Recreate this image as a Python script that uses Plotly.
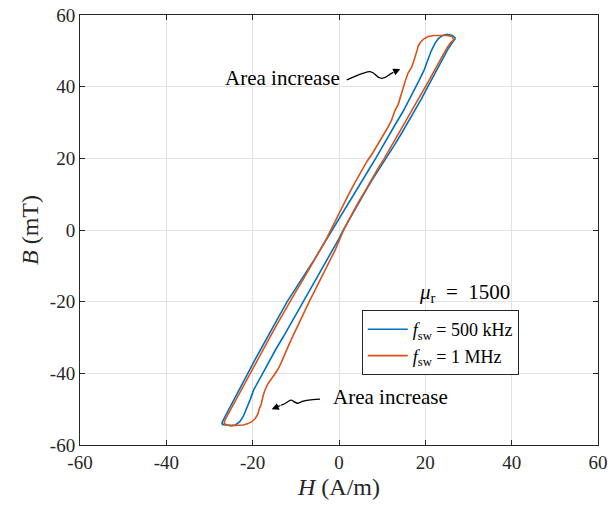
import plotly.graph_objects as go

# ---- data (H in A/m, B in mT) ----
# 500 kHz loop: descending branch (top-right -> bottom-left)
h500_desc = [27.0, 26.3, 25.0, 24.0, 23.0, 22.2, 21.3, 20.5, 19.7, 18.5, 17.3, 16.3, 14.8, 13.2, 11.8, 10.2,
             8.5, 6.8, 5.0, 3.2, 1.3, -0.3, -1.4, -2.7, -4.2, -5.8, -7.3, -8.8, -10.4, -12.0, -13.6, -15.2,
             -16.7, -18.2, -19.6, -20.9, -22.1, -23.3, -24.0, -24.6, -25.4, -26.1, -26.7, -27.1, -27.0]
b500_desc = [53.5, 54.3, 54.6, 54.3, 53.4, 52.0, 49.8, 47.3, 44.6, 41.6, 38.8, 36.2, 33.0, 29.8, 26.8, 23.4,
             20.0, 16.6, 13.0, 9.4, 5.4, 2.2, 0.0, -2.6, -5.4, -8.4, -11.2, -14.0, -17.0, -20.0, -23.4, -26.8,
             -30.1, -33.4, -36.5, -39.5, -42.2, -44.7, -46.3, -47.6, -49.6, -51.4, -52.8, -53.8, -54.3]
# 500 kHz loop: ascending branch (bottom-left -> top-right)
h500_asc = [-26.4, -25.0, -24.0, -23.0, -22.2, -21.4, -20.6, -19.8, -18.5, -17.1, -15.9, -14.5, -12.9, -11.4,
            -9.7, -8.1, -6.6, -5.2, -4.0, -2.6, -1.2, 0.0, 1.0, 2.3, 3.6, 5.0, 6.4, 7.9, 9.5, 11.2, 12.8,
            14.4, 16.0, 17.5, 19.0, 20.4, 21.7, 23.0, 24.2, 25.3, 26.3, 27.0]
b500_asc = [-54.4, -54.6, -54.4, -53.5, -52.1, -50.0, -47.4, -44.7, -41.8, -39.0, -36.2, -33.0, -29.8, -26.6,
            -23.2, -19.8, -16.6, -13.6, -11.2, -8.2, -5.2, -2.4, 0.0, 2.8, 5.6, 8.6, 11.4, 14.4, 17.4, 20.4,
            23.6, 26.8, 30.0, 33.2, 36.4, 39.6, 42.5, 45.4, 48.2, 50.6, 52.4, 53.5]

# 1 MHz loop: descending branch
h1m_desc = [26.6, 26.2, 25.0, 23.5, 22.0, 20.6, 19.6, 18.9, 18.4, 18.1, 17.8, 17.3, 16.8, 16.0, 15.4, 14.8,
            14.2, 13.7, 12.9, 12.2, 11.3, 10.0, 8.9, 7.8, 6.5, 5.0, 3.5, 2.0, 0.6, -0.6, -1.6, -2.8, -4.0,
            -5.4, -6.9, -8.4, -9.9, -11.4, -12.9, -14.4, -15.9, -17.4, -18.8, -20.2, -21.5, -22.8, -24.0,
            -25.0, -25.8, -26.4, -26.6]
b1m_desc = [53.0, 54.0, 54.3, 54.4, 54.3, 54.0, 53.3, 52.4, 51.5, 50.2, 48.8, 47.0, 45.4, 43.8, 41.8, 39.6,
            37.0, 35.0, 33.2, 30.7, 28.6, 26.0, 23.5, 21.5, 19.2, 16.2, 12.8, 9.4, 6.0, 3.0, 0.4, -2.2, -4.8,
            -7.8, -11.0, -14.0, -17.0, -20.0, -23.2, -26.4, -29.7, -33.0, -36.2, -39.3, -42.2, -45.0, -47.6,
            -49.8, -51.6, -53.0, -54.0]
# 1 MHz loop: ascending branch
h1m_asc = [-26.0, -25.0, -23.5, -22.2, -21.2, -20.2, -19.4, -18.8, -18.5, -18.0, -17.6, -17.2, -16.5, -15.4,
           -14.2, -13.3, -12.5, -11.6, -10.6, -9.7, -8.8, -7.8, -6.9, -5.9, -4.9, -4.0, -3.2, -2.0, -0.9,
           0.1, 1.0, 2.1, 3.3, 4.6, 6.0, 7.4, 8.9, 10.5, 12.1, 13.7, 15.2, 16.7, 18.3, 19.8, 21.2, 22.5,
           23.8, 24.9, 25.9, 26.6]
b1m_asc = [-54.4, -54.6, -54.6, -54.4, -54.1, -53.5, -52.6, -51.4, -50.0, -48.5, -46.4, -44.8, -43.0, -41.0,
           -39.0, -36.8, -34.4, -32.0, -29.4, -27.0, -24.6, -22.2, -20.0, -17.6, -15.2, -13.0, -11.2, -8.4,
           -5.6, -2.8, -0.2, 2.4, 5.2, 8.0, 10.8, 13.8, 16.9, 20.0, 23.3, 26.6, 29.8, 33.0, 36.2, 39.5, 42.5,
           45.4, 48.2, 50.6, 52.4, 53.0]

series_names = ["<i>f</i><sub>sw</sub> = 500 kHz", "<i>f</i><sub>sw</sub> = 1 MHz"]
series_colors = ["#0072BD", "#D95319"]
tick_vals = [-60, -40, -20, 0, 20, 40, 60]
tick_text = ["-60", "-40", "-20", "0", "20", "40", "60"]

FONT = "Liberation Serif"

fig = go.Figure()
loops = [(h500_desc + h500_asc, b500_desc + b500_asc), (h1m_desc + h1m_asc, b1m_desc + b1m_asc)]
for (hx, by), name, col in zip(loops, series_names, series_colors):
    fig.add_trace(go.Scatter(x=hx, y=by, mode="lines", name=name,
                             line=dict(color=col, width=1.6)))

axis_common = dict(range=[-60, 60], tickvals=tick_vals, ticktext=tick_text, automargin=False,
                   showgrid=True, gridcolor="#e2e2e2", gridwidth=1, zeroline=False,
                   showline=True, linecolor="#262626", linewidth=1, mirror="ticks",
                   ticks="inside", ticklen=5, tickcolor="#262626",
                   tickfont=dict(family=FONT, size=19, color="#262626"))
fig.update_xaxes(**axis_common, title=dict(text="<i>H</i> (A/m)", font=dict(family=FONT, size=24, color="#262626"), standoff=6))
fig.update_yaxes(**axis_common, title=dict(text="<i>B</i> (mT)", font=dict(family=FONT, size=24, color="#262626"), standoff=4))

# squiggly annotation arrows
fig.add_shape(type="path", xref="x", yref="y",
              path="M 1.8 41.9 C 4 42.9, 6 44.3, 7.2 44.2 C 8.6 44.0, 8.6 42.3, 9.9 42.3 C 11.0 42.3, 11.4 43.4, 12.6 44.0",
              line=dict(color="black", width=1.3))
fig.add_annotation(x=14.2, y=44.9, ax=12.4, ay=43.9, xref="x", yref="y", axref="x", ayref="y",
                   text="", showarrow=True, arrowhead=2, arrowsize=1.1, arrowwidth=1.3, arrowcolor="black")
fig.add_shape(type="path", xref="x", yref="y",
              path="M -4.4 -47.2 C -6.5 -47.3, -8.3 -47.5, -9.2 -48.2 C -10.0 -48.9, -10.6 -47.3, -11.2 -47.5 C -11.8 -47.7, -12.2 -48.4, -13.4 -48.9",
              line=dict(color="black", width=1.3))
fig.add_annotation(x=-15.6, y=-50.0, ax=-13.2, ay=-48.8, xref="x", yref="y", axref="x", ayref="y",
                   text="", showarrow=True, arrowhead=2, arrowsize=1.1, arrowwidth=1.3, arrowcolor="black")

fig.add_annotation(x=0.7, y=42.3, xref="x", yref="y", text="Area increase", showarrow=False,
                   xanchor="right", yanchor="middle", font=dict(family=FONT, size=21, color="black"))
fig.add_annotation(x=-1.9, y=-46.6, xref="x", yref="y", text="Area increase", showarrow=False,
                   xanchor="left", yanchor="middle", font=dict(family=FONT, size=21, color="black"))
fig.add_annotation(x=29.0, y=-17.6, xref="x", yref="y",
                   text="<i>μ</i><sub>r</sub>\u00a0 =\u00a0 1500", showarrow=False,
                   xanchor="center", yanchor="middle", font=dict(family=FONT, size=21, color="black"))

fig.update_layout(
    width=610, height=508,
    margin=dict(l=80, r=12, t=15, b=63),
    plot_bgcolor="white", paper_bgcolor="white",
    showlegend=True,
    legend=dict(x=0.544, y=0.314, xanchor="left", yanchor="top",
                bgcolor="white", bordercolor="#262626", borderwidth=1,
                font=dict(family=FONT, size=18, color="black"),
                tracegroupgap=0, itemwidth=40),
)

fig.write_html("out.html")
